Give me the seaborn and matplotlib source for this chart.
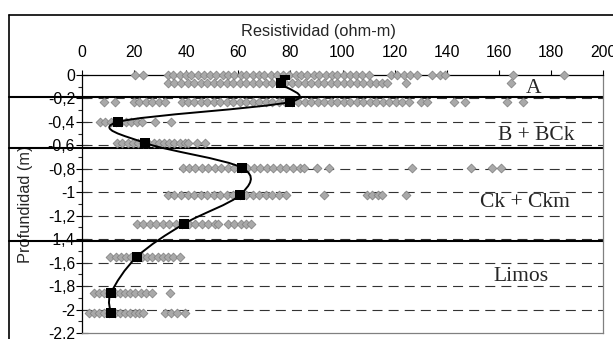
import numpy as np
import pandas as pd
import matplotlib
matplotlib.use("Agg")
import matplotlib.pyplot as plt
import seaborn as sns
from matplotlib.path import Path
from matplotlib.patches import PathPatch
from matplotlib.lines import Line2D
from matplotlib.ticker import MultipleLocator, FuncFormatter

# profundidades de cada nivel de medición (m)
depths = [0.0, -0.07, -0.23, -0.40, -0.58, -0.79, -1.02, -1.27, -1.55, -1.86, -2.03]
# resistividad media por nivel (ohm-m)
means = [78.0, 76.2, 79.7, 13.9, 24.2, 61.3, 60.8, 39.1, 21.1, 11.1, 11.1]

# lecturas individuales por nivel
r0 = [20.4, 23.6, 33, 35, 37.5, 40, 42, 44.5, 47, 49, 51.5, 54, 56, 58.5, 61, 63, 65.5, 68, 70,
      72.5, 75, 77, 79.5, 82, 84, 86.5, 89, 91, 93.5, 96, 98, 100.5, 103, 105, 107.5, 110,
      118.5, 121, 123.5, 126, 128.5, 134.4, 137.6, 139.5, 165.6, 185.1]
r1 = [33, 35.5, 38, 40.5, 43, 45.5, 48, 50.5, 53, 55.5, 58, 60.5, 63, 65.5, 68, 70.5, 73, 75.5,
      78, 80.5, 83, 85.5, 88, 90.5, 93, 95.5, 98, 100.5, 103, 105.5, 108, 110.5, 113, 115, 117,
      124.2, 164.7]
r2 = [8.3, 12.5, 19.8, 22, 24.5, 27, 29.5, 32, 38.2, 40.5, 43, 45.5, 48, 50.5, 53, 55.5, 58,
      60.5, 63, 65.5, 68, 70.5, 73, 75.5, 78, 80.5, 83, 85.5, 88, 90.5, 93, 95.5, 98, 100.5, 103,
      105.5, 108, 110.5, 113, 115.5, 118, 120.5, 123, 125.5, 130, 132.5, 142.7, 146.9, 163, 169.4]
r3 = [7, 9, 11, 13, 15, 17, 19, 21, 23, 28, 34.2]
r4 = [13.4, 15.5, 17.5, 19.5, 21.5, 23.5, 25.5, 27.5, 29.5, 31.5, 33.5, 35.5, 37.5, 39.5, 40.8,
      44, 47.2]
r5 = [38.7, 41, 43.5, 46, 48.5, 51, 53.5, 56, 58.5, 61, 63.5, 66, 68.5, 71, 73.5, 76, 78.5, 81,
      83.5, 85.3, 90.4, 94.8, 126.7, 149.4, 157.3, 160.9]
r6 = [33, 35.5, 38, 40.5, 43, 45.5, 48, 50.5, 53, 55.5, 58, 60.5, 63, 65.5, 68, 70.5, 73, 75.5,
      78.3, 93, 109.5, 111.5, 113.5, 115.3, 124.2]
r7 = [21, 23.5, 26, 28.5, 31, 33.5, 36, 38.5, 41, 43.5, 46, 48.5, 51, 52.3, 56, 58.5, 61, 63, 65]
r8 = [10.8, 13, 15, 17, 19, 21, 23, 25, 27, 29, 31, 33, 35, 37.6]
r9 = [4.5, 6.5, 8.5, 10.5, 12.5, 14.5, 16.5, 18.5, 20.5, 22.5, 24.5, 26.8, 33.8]
r10 = [2.5, 4.5, 6.5, 8.5, 10.5, 12.5, 14.5, 16.5, 18.5, 20.5, 22, 23.6, 31.9, 34, 36.5, 39.5]
readings = [r0, r1, r2, r3, r4, r5, r6, r7, r8, r9, r10]

# límites de horizontes y nombres
boundaries = [-0.185, -0.625, -1.415]
horizons = ["A", "B + BCk", "Ck + Ckm", "Limos"]
horizon_pos = [(173.2, -0.115), (174.4, -0.52), (170.2, -1.09), (168.6, -1.72)]

sns.set_style("white")
plt.rcParams['font.family'] = ['Liberation Sans', 'DejaVu Sans']

df = pd.DataFrame({
    'res': [v for r in readings for v in r],
    'prof': [d for r, d in zip(readings, depths) for _ in r],
})

fig = plt.figure(figsize=(6.13, 3.39), dpi=100)
ax = fig.add_axes([82 / 613, 1 - 333 / 339, (603 - 82) / 613, (333 - 75) / 339])

ax.set_xlim(0, 200)
ax.set_ylim(-2.2, 0)

# líneas de grilla discontinuas
yt = [-0.2 * i for i in range(1, 11)]
ax.hlines(yt, 0, 200, colors='#333333', linewidth=0.8, linestyles=[(0, (9, 5.5))], zorder=1)

sns.scatterplot(data=df, x='res', y='prof', marker='D', s=20, color='#a9a9a9',
                edgecolor='#858585', linewidth=0.6, ax=ax, zorder=3, clip_on=False)

# curva suavizada por las medias
pts = np.column_stack([means, depths])
n = len(pts)
verts = [pts[0]]
codes = [Path.MOVETO]
for i in range(n - 1):
    p0 = pts[i - 1] if i > 0 else pts[i]
    p1, p2 = pts[i], pts[i + 1]
    p3 = pts[i + 2] if i + 2 < n else pts[i + 1]
    verts += [p1 + (p2 - p0) / 6, p2 - (p3 - p1) / 6, p2]
    codes += [Path.CURVE4] * 3
ax.add_patch(PathPatch(Path(verts, codes), fill=False, edgecolor='black', linewidth=1.4, zorder=4))

sns.scatterplot(x=means, y=depths, marker='s', s=42, color='black', edgecolor='black',
                linewidth=0, ax=ax, zorder=5)

for b in boundaries:
    ax.axhline(b, xmin=(9 - 82) / 521, xmax=1, color='black', linewidth=1.5, clip_on=False, zorder=2)

for name, (hx, hy) in zip(horizons, horizon_pos):
    ax.text(hx, hy, name, ha='center', va='center', fontsize=15.5,
            family=['Liberation Serif', 'DejaVu Serif'], zorder=6)

# ejes
ax.xaxis.tick_top()
ax.xaxis.set_label_position('top')
ax.xaxis.set_major_locator(MultipleLocator(20))
ax.yaxis.set_major_locator(MultipleLocator(0.2))
ax.yaxis.set_minor_locator(MultipleLocator(0.1))
ax.yaxis.set_major_formatter(FuncFormatter(lambda v, p: ('%g' % round(v, 1)).replace('.', ',')))
ax.tick_params(axis='x', which='major', top=True, bottom=False, direction='out', length=3.5,
               width=0.8, pad=7, labelsize=11.3, colors='black')
ax.tick_params(axis='y', which='major', left=True, direction='inout', length=8, width=0.8,
               pad=1, labelsize=11.3, colors='black')
ax.tick_params(axis='y', which='minor', left=True, direction='out', length=3, width=0.8)

ax.set_xlabel('Resistividad (ohm-m)', fontsize=11.8)
ax.xaxis.set_label_coords(0.453, 1.151)
ax.set_ylabel('Profundidad (m)', fontsize=11.8)
ax.yaxis.set_label_coords(-0.095, 0.5)

for side in ['top', 'left']:
    ax.spines[side].set_color('black')
    ax.spines[side].set_linewidth(0.9)
for side in ['right', 'bottom']:
    ax.spines[side].set_color('#808080')
    ax.spines[side].set_linewidth(0.9)

# borde del área del gráfico
fig.add_artist(Line2D([9 / 613, 9 / 613], [0, 1 - 15 / 339], color='black', linewidth=1.2))
fig.add_artist(Line2D([9 / 613, 1], [1 - 15 / 339, 1 - 15 / 339], color='black', linewidth=1.2))

fig.savefig('out.png', dpi=100)
